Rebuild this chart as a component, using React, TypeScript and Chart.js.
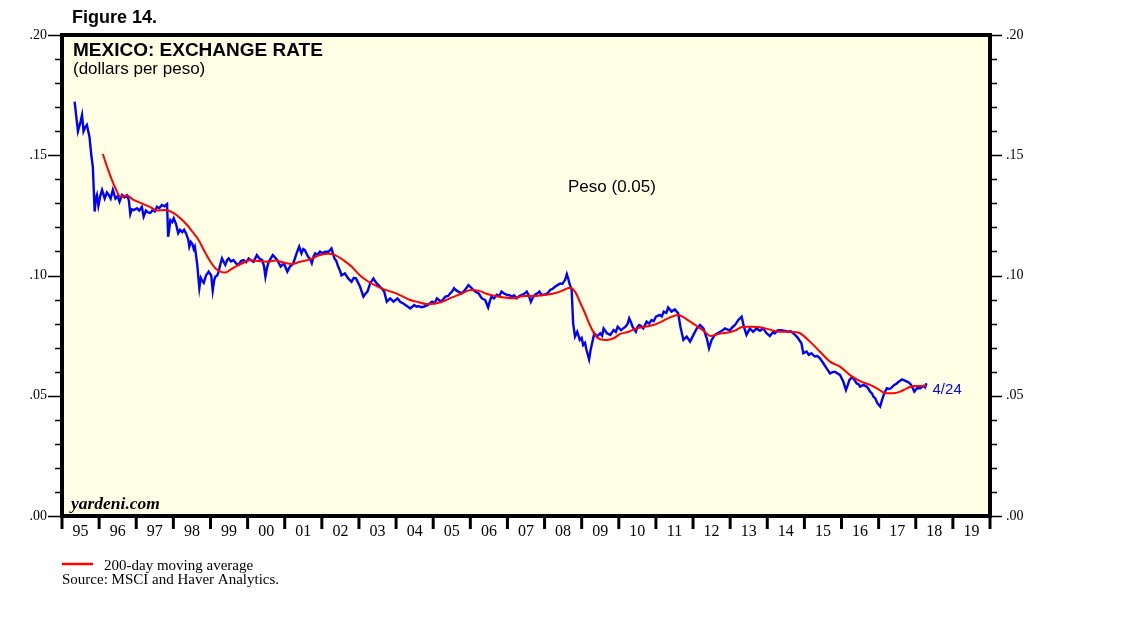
import React, { useEffect, useRef } from "react";
import { Chart, registerables } from "chart.js";

Chart.register(...registerables);

// Peso exchange rate (dollars per peso), decimal years
const blueYears = [
  1995.34, 1995.40, 1995.43, 1995.50, 1995.54, 1995.58, 1995.62, 1995.67, 1995.74, 1995.79,
  1995.83, 1995.86, 1995.88, 1995.91, 1995.94, 1995.98, 1996.03, 1996.08, 1996.15, 1996.21,
  1996.26, 1996.31, 1996.37, 1996.44, 1996.50, 1996.55, 1996.62, 1996.68, 1996.75, 1996.80,
  1996.84, 1996.88, 1996.93, 1997.02, 1997.08, 1997.15, 1997.20, 1997.26, 1997.32, 1997.38,
  1997.44, 1997.50, 1997.56, 1997.62, 1997.69, 1997.76, 1997.83, 1997.86, 1997.92, 1997.97,
  1998.01, 1998.07, 1998.13, 1998.18, 1998.24, 1998.29, 1998.34, 1998.40, 1998.43, 1998.47,
  1998.51, 1998.55, 1998.58, 1998.64, 1998.70, 1998.74, 1998.77, 1998.82, 1998.88, 1998.95,
  1999.02, 1999.06, 1999.10, 1999.13, 1999.18, 1999.22, 1999.27, 1999.31, 1999.36, 1999.40,
  1999.45, 1999.49, 1999.55, 1999.62, 1999.69, 1999.76, 1999.82, 1999.89, 1999.96, 2000.03,
  2000.10, 2000.16, 2000.25, 2000.32, 2000.39, 2000.44, 2000.48, 2000.52, 2000.57, 2000.62,
  2000.68, 2000.74, 2000.80, 2000.89, 2000.98, 2001.07, 2001.14, 2001.23, 2001.32, 2001.39,
  2001.45, 2001.50, 2001.54, 2001.63, 2001.68, 2001.73, 2001.78, 2001.82, 2001.88, 2001.95,
  2002.02, 2002.09, 2002.18, 2002.26, 2002.34, 2002.39, 2002.44, 2002.49, 2002.53, 2002.62,
  2002.71, 2002.80, 2002.86, 2002.92, 2003.03, 2003.12, 2003.18, 2003.23, 2003.30, 2003.39,
  2003.44, 2003.48, 2003.57, 2003.62, 2003.68, 2003.75, 2003.84, 2003.93, 2004.04, 2004.11,
  2004.18, 2004.25, 2004.32, 2004.38, 2004.49, 2004.55, 2004.61, 2004.68, 2004.74, 2004.85,
  2004.97, 2005.04, 2005.10, 2005.21, 2005.33, 2005.40, 2005.46, 2005.52, 2005.56, 2005.62,
  2005.68, 2005.77, 2005.83, 2005.89, 2005.95, 2006.04, 2006.13, 2006.22, 2006.31, 2006.40,
  2006.48, 2006.52, 2006.57, 2006.64, 2006.71, 2006.78, 2006.84, 2006.91, 2006.98, 2007.05,
  2007.12, 2007.18, 2007.25, 2007.32, 2007.39, 2007.46, 2007.52, 2007.58, 2007.63, 2007.69,
  2007.74, 2007.80, 2007.86, 2007.92, 2007.97, 2008.04, 2008.10, 2008.15, 2008.22, 2008.28,
  2008.35, 2008.42, 2008.48, 2008.55, 2008.60, 2008.64, 2008.67, 2008.73, 2008.77, 2008.82,
  2008.88, 2008.95, 2009.00, 2009.04, 2009.09, 2009.13, 2009.20, 2009.24, 2009.27, 2009.34,
  2009.41, 2009.50, 2009.55, 2009.59, 2009.68, 2009.77, 2009.86, 2009.92, 2009.97, 2010.06,
  2010.12, 2010.18, 2010.24, 2010.28, 2010.33, 2010.37, 2010.46, 2010.50, 2010.55, 2010.60,
  2010.66, 2010.75, 2010.82, 2010.88, 2010.94, 2011.00, 2011.10, 2011.16, 2011.21, 2011.28,
  2011.33, 2011.42, 2011.51, 2011.60, 2011.66, 2011.70, 2011.74, 2011.83, 2011.92, 2012.01,
  2012.10, 2012.19, 2012.28, 2012.37, 2012.43, 2012.50, 2012.59, 2012.66, 2012.73, 2012.80,
  2012.86, 2012.93, 2013.00, 2013.06, 2013.13, 2013.22, 2013.31, 2013.37, 2013.44, 2013.53,
  2013.62, 2013.71, 2013.80, 2013.89, 2013.98, 2014.07, 2014.16, 2014.20, 2014.29, 2014.38,
  2014.47, 2014.56, 2014.63, 2014.70, 2014.77, 2014.83, 2014.92, 2014.97, 2015.06, 2015.12,
  2015.19, 2015.28, 2015.35, 2015.42, 2015.51, 2015.60, 2015.69, 2015.76, 2015.82, 2015.90,
  2015.96, 2016.05, 2016.12, 2016.17, 2016.21, 2016.27, 2016.32, 2016.41, 2016.46, 2016.50,
  2016.59, 2016.68, 2016.72, 2016.77, 2016.82, 2016.86, 2016.91, 2016.97, 2017.04, 2017.09,
  2017.15, 2017.22, 2017.28, 2017.33, 2017.42, 2017.48, 2017.54, 2017.63, 2017.72, 2017.81,
  2017.86, 2017.90, 2017.96, 2018.03, 2018.12, 2018.21, 2018.25, 2018.29,
];
const blueValues = [
  0.1723, 0.1640, 0.1600, 0.1640, 0.1667, 0.1600, 0.1615, 0.1626, 0.1577, 0.1500,
  0.1453, 0.1340, 0.1266, 0.1320, 0.1335, 0.1290, 0.1330, 0.1356, 0.1320, 0.1345,
  0.1335, 0.1320, 0.1356, 0.1320, 0.1330, 0.1307, 0.1335, 0.1325, 0.1333, 0.1314,
  0.1256, 0.1275, 0.1272, 0.1280, 0.1270, 0.1286, 0.1245, 0.1270, 0.1262, 0.1260,
  0.1272, 0.1266, 0.1286, 0.1280, 0.1293, 0.1288, 0.1297, 0.1161, 0.1230, 0.1222,
  0.1238, 0.1215, 0.1176, 0.1190, 0.1180, 0.1190, 0.1176, 0.1150, 0.1120, 0.1140,
  0.1132, 0.1110, 0.1120, 0.1050, 0.0947, 0.0990, 0.0981, 0.0970, 0.1000, 0.1016,
  0.1000, 0.0937, 0.0980, 0.0995, 0.1000, 0.1016, 0.1050, 0.1071, 0.1055, 0.1044,
  0.1065, 0.1071, 0.1058, 0.1064, 0.1050, 0.1044, 0.1060, 0.1064, 0.1055, 0.1071,
  0.1062, 0.1057, 0.1085, 0.1070, 0.1064, 0.1040, 0.0995, 0.1030, 0.1057, 0.1070,
  0.1085, 0.1075, 0.1064, 0.1037, 0.1050, 0.1016, 0.1037, 0.1050, 0.1092, 0.1120,
  0.1092, 0.1110, 0.1106, 0.1078, 0.1070, 0.1051, 0.1080, 0.1092, 0.1085, 0.1099,
  0.1092, 0.1099, 0.1099, 0.1113, 0.1071, 0.1060, 0.1037, 0.1020, 0.1000, 0.1009,
  0.0988, 0.0974, 0.0990, 0.0988, 0.0953, 0.0912, 0.0925, 0.0933, 0.0967, 0.0988,
  0.0975, 0.0967, 0.0953, 0.0945, 0.0933, 0.0891, 0.0905, 0.0891, 0.0905, 0.0891,
  0.0885, 0.0877, 0.0870, 0.0863, 0.0877, 0.0870, 0.0873, 0.0868, 0.0870, 0.0877,
  0.0891, 0.0885, 0.0905, 0.0891, 0.0912, 0.0915, 0.0926, 0.0935, 0.0947, 0.0938,
  0.0933, 0.0926, 0.0935, 0.0947, 0.0960, 0.0947, 0.0933, 0.0926, 0.0905, 0.0898,
  0.0867, 0.0890, 0.0912, 0.0905, 0.0920, 0.0915, 0.0933, 0.0925, 0.0920, 0.0918,
  0.0912, 0.0918, 0.0905, 0.0915, 0.0920, 0.0925, 0.0933, 0.0915, 0.0891, 0.0910,
  0.0920, 0.0925, 0.0933, 0.0918, 0.0920, 0.0922, 0.0929, 0.0940, 0.0945, 0.0953,
  0.0960, 0.0967, 0.0965, 0.0981, 0.1006, 0.0985, 0.0967, 0.0940, 0.0801, 0.0746,
  0.0766, 0.0732, 0.0740, 0.0711, 0.0720, 0.0690, 0.0651, 0.0690, 0.0711, 0.0760,
  0.0746, 0.0760, 0.0750, 0.0780, 0.0760, 0.0753, 0.0773, 0.0765, 0.0787, 0.0773,
  0.0780, 0.0787, 0.0800, 0.0822, 0.0805, 0.0787, 0.0766, 0.0785, 0.0794, 0.0790,
  0.0780, 0.0808, 0.0800, 0.0815, 0.0810, 0.0829, 0.0836, 0.0830, 0.0850, 0.0845,
  0.0867, 0.0850, 0.0859, 0.0843, 0.0787, 0.0760, 0.0732, 0.0746, 0.0725, 0.0753,
  0.0780, 0.0794, 0.0780, 0.0739, 0.0697, 0.0732, 0.0753, 0.0760, 0.0766, 0.0772,
  0.0780, 0.0775, 0.0773, 0.0785, 0.0794, 0.0815, 0.0829, 0.0787, 0.0753, 0.0780,
  0.0766, 0.0780, 0.0770, 0.0780, 0.0760, 0.0748, 0.0766, 0.0760, 0.0773, 0.0773,
  0.0770, 0.0766, 0.0768, 0.0760, 0.0750, 0.0739, 0.0718, 0.0677, 0.0684, 0.0670,
  0.0677, 0.0663, 0.0665, 0.0656, 0.0635, 0.0614, 0.0593, 0.0598, 0.0600, 0.0592,
  0.0586, 0.0558, 0.0524, 0.0545, 0.0565, 0.0575, 0.0572, 0.0551, 0.0548, 0.0538,
  0.0545, 0.0538, 0.0530, 0.0517, 0.0510, 0.0496, 0.0489, 0.0468, 0.0455, 0.0482,
  0.0510, 0.0531, 0.0528, 0.0531, 0.0545, 0.0550, 0.0558, 0.0568, 0.0562, 0.0555,
  0.0548, 0.0538, 0.0517, 0.0531, 0.0531, 0.0541, 0.0535, 0.0552,
];

// 200-day moving average
const maYears = [
  1996.10, 1996.26, 1996.44, 1996.57, 1996.75, 1996.93, 1997.15, 1997.38, 1997.56, 1997.79,
  1998.01, 1998.19, 1998.37, 1998.55, 1998.68, 1998.82, 1999.00, 1999.13, 1999.27, 1999.40,
  1999.53, 1999.71, 1999.89, 2000.07, 2000.30, 2000.52, 2000.75, 2000.98, 2001.20, 2001.41,
  2001.68, 2001.95, 2002.18, 2002.36, 2002.58, 2002.80, 2003.03, 2003.26, 2003.48, 2003.71,
  2003.93, 2004.15, 2004.38, 2004.61, 2004.83, 2005.06, 2005.29, 2005.51, 2005.74, 2006.01,
  2006.22, 2006.45, 2006.68, 2006.90, 2007.17, 2007.44, 2007.71, 2007.95, 2008.15, 2008.42,
  2008.69, 2008.82, 2008.95, 2009.09, 2009.22, 2009.36, 2009.50, 2009.68, 2009.86, 2010.04,
  2010.26, 2010.48, 2010.71, 2010.93, 2011.15, 2011.38, 2011.60, 2011.83, 2012.06, 2012.28,
  2012.48, 2012.68, 2012.91, 2013.13, 2013.35, 2013.58, 2013.80, 2014.05, 2014.32, 2014.61,
  2014.88, 2015.15, 2015.42, 2015.69, 2015.96, 2016.23, 2016.50, 2016.77, 2017.00, 2017.18,
  2017.40, 2017.58, 2017.76, 2017.94, 2018.12, 2018.29,
];
const maValues = [
  0.1505, 0.1432, 0.1363, 0.1328, 0.1333, 0.1314, 0.1300, 0.1284, 0.1270, 0.1272,
  0.1259, 0.1238, 0.1210, 0.1175, 0.1148, 0.1106, 0.1057, 0.1030, 0.1016, 0.1012,
  0.1023, 0.1040, 0.1053, 0.1064, 0.1060, 0.1057, 0.1062, 0.1053, 0.1048, 0.1057,
  0.1067, 0.1085, 0.1090, 0.1085, 0.1064, 0.1037, 0.1000, 0.0974, 0.0956, 0.0940,
  0.0930, 0.0915, 0.0898, 0.0889, 0.0881, 0.0884, 0.0894, 0.0909, 0.0923, 0.0940,
  0.0937, 0.0923, 0.0915, 0.0909, 0.0905, 0.0915, 0.0915, 0.0919, 0.0922, 0.0933,
  0.0949, 0.0933, 0.0891, 0.0843, 0.0794, 0.0753, 0.0735, 0.0732, 0.0739, 0.0757,
  0.0766, 0.0780, 0.0787, 0.0794, 0.0808, 0.0826, 0.0836, 0.0818, 0.0794, 0.0771,
  0.0748, 0.0757, 0.0762, 0.0771, 0.0787, 0.0787, 0.0785, 0.0776, 0.0766, 0.0766,
  0.0760, 0.0725, 0.0683, 0.0642, 0.0621, 0.0586, 0.0561, 0.0545, 0.0527, 0.0510,
  0.0510, 0.0517, 0.0531, 0.0541, 0.0541, 0.0541,
];

const yearStart = 1995;
const yearEnd = 2020;
const yearLabels = [
  "95", "96", "97", "98", "99", "00", "01", "02", "03", "04", "05", "06", "07",
  "08", "09", "10", "11", "12", "13", "14", "15", "16", "17", "18", "19",
];
const yMajorValues = [0, 0.05, 0.1, 0.15, 0.2];
const yMajorLabels = [".00", ".05", ".10", ".15", ".20"];
const lastLabel = "4/24";

const SANS = '"Liberation Sans", Arial, sans-serif';
const SERIF = '"Liberation Serif", "Times New Roman", serif';

const decor = {
  id: "decor",
  beforeDatasetsDraw(chart: any) {
    const { ctx, chartArea: a } = chart;
    ctx.save();
    ctx.fillStyle = "#FFFFE6";
    ctx.fillRect(a.left, a.top, a.right - a.left, a.bottom - a.top);
    ctx.restore();
  },
  afterDraw(chart: any) {
    const { ctx, chartArea: a } = chart;
    const xs = chart.scales.x;
    const ys = chart.scales.y;
    ctx.save();

    // frame
    ctx.strokeStyle = "#000";
    ctx.lineWidth = 4;
    ctx.strokeRect(a.left, a.top, a.right - a.left, a.bottom - a.top);

    // y ticks both sides
    ctx.lineWidth = 1.4;
    for (let i = 0; i <= 20; i++) {
      const v = i / 100;
      const y = Math.round(ys.getPixelForValue(v)) + 0.5;
      const major = i % 5 === 0;
      ctx.beginPath();
      ctx.moveTo(a.left - (major ? 14 : 7), y);
      ctx.lineTo(a.left, y);
      ctx.moveTo(a.right, y);
      ctx.lineTo(a.right + (major ? 12 : 7), y);
      ctx.stroke();
    }
    ctx.fillStyle = "#000";
    ctx.font = `14px ${SERIF}`;
    ctx.textBaseline = "middle";
    yMajorValues.forEach((v, i) => {
      const y = ys.getPixelForValue(v);
      ctx.textAlign = "right";
      ctx.fillText(yMajorLabels[i], a.left - 15, y);
      ctx.textAlign = "left";
      ctx.fillText(yMajorLabels[i], a.right + 16, y);
    });

    // x ticks
    ctx.lineWidth = 3;
    for (let yr = yearStart; yr <= yearEnd; yr++) {
      const x = xs.getPixelForValue(yr);
      ctx.beginPath();
      ctx.moveTo(x, a.bottom);
      ctx.lineTo(x, a.bottom + 13);
      ctx.stroke();
    }
    ctx.font = `16px ${SERIF}`;
    ctx.textAlign = "center";
    ctx.textBaseline = "alphabetic";
    yearLabels.forEach((lab, i) => {
      const x = xs.getPixelForValue(yearStart + i + 0.5);
      ctx.fillText(lab, x, a.bottom + 20);
    });

    // titles
    ctx.textAlign = "left";
    ctx.font = `bold 18px ${SANS}`;
    ctx.fillText("Figure 14.", 72, 23);
    ctx.font = `bold 19px ${SANS}`;
    ctx.fillText("MEXICO: EXCHANGE RATE", 73, 56);
    ctx.font = `17px ${SANS}`;
    ctx.fillText("(dollars per peso)", 73, 74);
    ctx.font = `17px ${SANS}`;
    ctx.fillText("Peso (0.05)", 568, 192);

    ctx.font = `italic bold 17.5px ${SERIF}`;
    ctx.fillText("yardeni.com", 71, 509);

    // last value label
    const lx = xs.getPixelForValue(blueYears[blueYears.length - 1]);
    const ly = ys.getPixelForValue(blueValues[blueValues.length - 1]);
    ctx.fillStyle = "#0000FF";
    ctx.font = `15px ${SANS}`;
    ctx.fillText(lastLabel, lx + 6, ly + 11);

    // legend + source
    ctx.strokeStyle = "#FF0000";
    ctx.lineWidth = 2.5;
    ctx.beginPath();
    ctx.moveTo(62, 564);
    ctx.lineTo(93, 564);
    ctx.stroke();
    ctx.fillStyle = "#000";
    ctx.font = `15px ${SERIF}`;
    ctx.fillText("200-day moving average", 104, 570);
    ctx.fillText("Source: MSCI and Haver Analytics.", 62, 584);

    ctx.restore();
  },
};

export default function App() {
  const ref = useRef<HTMLCanvasElement>(null);
  useEffect(() => {
    document.body.style.margin = "0";
    const chart = new Chart(ref.current as HTMLCanvasElement, {
      type: "line",
      data: {
        datasets: [
          {
            label: "Peso",
            data: blueYears.map((x, i) => ({ x, y: blueValues[i] })),
            borderColor: "#0000FF",
            borderWidth: 2.4,
            pointRadius: 0,
            tension: 0,
            order: 1,
          },
          {
            label: "200-day moving average",
            data: maYears.map((x, i) => ({ x, y: maValues[i] })),
            borderColor: "#FF0000",
            borderWidth: 2,
            pointRadius: 0,
            cubicInterpolationMode: "monotone",
            order: 0,
          },
        ],
      },
      options: {
        animation: false,
        responsive: false,
        events: [],
        layout: { padding: { left: 62, right: 148, top: 35, bottom: 105 } },
        scales: {
          x: { type: "linear", min: yearStart, max: yearEnd, display: false },
          y: { min: 0, max: 0.2, display: false },
        },
        plugins: { legend: { display: false }, tooltip: { enabled: false } },
      } as any,
      plugins: [decor],
    });
    return () => chart.destroy();
  }, []);
  return <canvas ref={ref} width={1138} height={621} style={{ display: "block" }} />;
}
